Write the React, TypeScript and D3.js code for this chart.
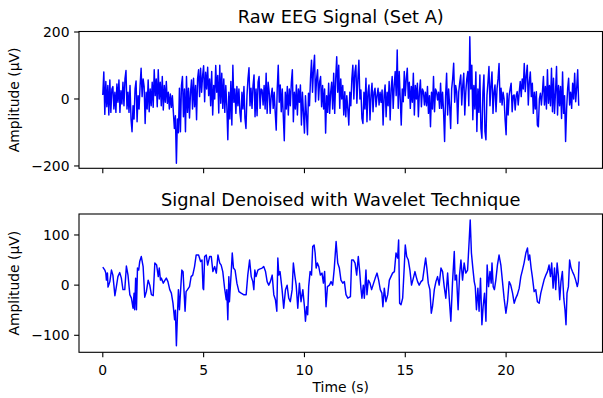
import React from 'react';
import * as d3 from 'd3';

// Raw EEG amplitude (µV), one reading every RAW_DT seconds
const RAW_DT = 0.05;
const rawAmp = [
  12, 81, -46, 52, -23, 40, -48, 57, -40, 30, 37, -30, 20, -40, 45, -10, 57, -40, 25, -15,
  50, -20, 60, 85, -30, 20, -40, 40, -60, -98, -20, -60, 30, 54, -68, 10, -30, 40, 92, 7,
  60, 37, -73, 20, -30, 57, -38, 30, -20, 50, -25, 87, 10, 60, -23, 87, 0, 50, -20, 67,
  -33, 40, -10, 52, -13, 20, -30, 15, -25, 10, -40, -88, -50, -192, -60, -101, 32, -98, 40, 67,
  -53, 30, -98, 67, -40, 32, -57, 20, 57, -30, 62, -23, 40, -62, 60, 87, 7, 92, 20, 70,
  99, -8, 80, 30, 95, 10, 60, -20, 82, -48, 40, 0, 100, 20, 70, -42, 101, -13, 77, -28,
  60, -40, 40, -20, -122, 20, -60, 52, -78, 101, -10, 30, -43, 37, -20, 30, -40, -68, 20, -30,
  37, -58, -88, 10, 60, 93, -20, 32, -28, 40, 72, -53, 30, -50, 50, 67, -28, 30, 27, -18,
  40, -30, 77, -43, 50, 22, -43, 10, 32, -28, 20, -40, -93, 30, 101, -10, 42, -38, 30, -50,
  -125, 20, -30, 37, -48, 30, -20, 50, 87, -68, 20, -30, 42, -48, 30, -10, 42, -78, 20, -40,
  -102, 10, -50, -107, 17, -20, 60, 116, 20, 90, 131, -8, 60, 87, -3, 50, 67, -23, 40, -30,
  30, -102, 10, -40, 47, -43, 20, 50, -30, 77, -43, 60, 126, 20, 101, -28, 60, 0, 40, -48,
  22, -53, 10, -30, -78, 20, -20, 60, 101, 0, 80, 101, -13, 60, 116, 0, 27, -58, -73, 20,
  -30, 62, -68, 20, 42, -63, 10, 47, -38, 20, 32, -23, 10, 32, -18, 20, -10, 27, -78, 10,
  42, -53, 20, -20, 52, -63, 30, 67, -28, 40, 82, 10, 146, -28, 82, 0, -78, 30, -8, 82,
  10, 60, 92, 2, 50, -28, 37, -10, 77, -48, 40, 0, 47, -53, 20, 57, -23, 30, 22, -18,
  20, -20, 37, -43, 10, -83, 20, -30, 67, -38, 30, 22, -3, 20, -28, 47, -28, 20, -40, -127,
  10, 77, -48, 30, -20, -88, 30, 60, 107, -10, 40, 22, -73, 20, 50, 72, -18, 40, 77, -48,
  20, 60, 82, -20, 186, 30, 101, -62, 40, -30, 81, -97, 30, -40, 72, -88, -117, 20, 72, -97,
  -122, 10, 50, 97, -20, 40, 81, -43, 20, 42, -38, 30, 60, 106, -10, 32, -18, 20, 0, -62,
  -107, 17, -48, 10, 30, 47, -38, 10, 12, -33, 10, 22, -18, 20, 52, 7, 60, 30, 106, 22,
  70, 101, -18, 50, 81, 7, 47, -43, 20, -30, 22, -78, -83, 0, 17, -18, 20, 67, -18, 37,
  -30, 87, -13, 40, -20, 92, -38, 62, -43, 20, 97, -48, 40, -20, 37, -58, 81, -43, 10, -127,
  -30, 30, 62, -18, 20, -28, 47, 0, 77, -8, 32, 87, -20,
];

// Denoised signal: [time (s), amplitude (µV)]
const denoised: [number, number][] = [
  [0, 36], [0.1, 30], [0.15, 24], [0.18, 10], [0.23, 24], [0.26, -4], [0.35, 7], [0.43, 30], [0.5, 20], [0.55, 0],
  [0.6, -21], [0.65, -9], [0.75, 17], [0.84, 25], [0.92, 14], [1.0, -9], [1.09, -9], [1.17, 38], [1.25, 20], [1.34, -19],
  [1.42, -26], [1.5, -46], [1.55, -16], [1.58, -49], [1.63, 14], [1.67, -49], [1.72, 34], [1.78, 30], [1.83, 47], [1.91, 57],
  [2.0, 37], [2.08, -24], [2.16, -13], [2.25, 10], [2.33, 0], [2.41, -19], [2.5, -21], [2.58, 44], [2.67, 40], [2.75, 17],
  [2.8, 34], [2.86, 10], [2.9, 14], [3.0, 4], [3.07, 9], [3.15, 14], [3.23, 7], [3.32, -9], [3.4, -16], [3.48, -36],
  [3.56, -69], [3.6, -50], [3.65, -121], [3.7, -62], [3.75, -9], [3.8, -49], [3.85, -16], [3.92, 30], [3.98, 27], [4.03, -13],
  [4.08, -52], [4.13, -13], [4.2, -9], [4.3, -3], [4.38, 17], [4.46, 20], [4.55, 37], [4.63, 60], [4.75, 60], [4.85, 47],
  [4.92, 50], [4.97, -6], [5.0, -9], [5.05, 57], [5.13, 60], [5.2, 40], [5.3, 57], [5.38, 57], [5.46, 27], [5.55, 37],
  [5.63, 24], [5.71, 60], [5.8, 44], [5.87, 40], [5.95, 27], [6.04, -6], [6.12, -29], [6.15, -9], [6.2, -69], [6.25, 17],
  [6.28, -33], [6.37, 27], [6.42, 64], [6.48, 34], [6.56, 30], [6.65, 4], [6.75, -13], [6.86, -16], [6.98, -19], [7.11, -19],
  [7.19, 20], [7.28, 50], [7.36, 17], [7.44, 7], [7.49, -9], [7.54, 30], [7.6, 17], [7.69, 30], [7.77, 32], [7.9, 34],
  [7.98, 37], [8.07, 27], [8.15, 7], [8.23, 0], [8.31, 7], [8.4, 20], [8.48, -19], [8.56, -29], [8.63, -52], [8.68, 54],
  [8.73, 20], [8.79, 27], [8.89, -9], [8.97, -46], [9.06, -9], [9.14, 0], [9.22, -26], [9.3, -33], [9.39, -9], [9.45, 44],
  [9.52, 20], [9.59, 0], [9.67, -46], [9.75, 4], [9.83, -33], [9.92, -9], [10.0, -43], [10.05, -72], [10.11, -43], [10.16, -59],
  [10.21, -3], [10.28, 27], [10.35, 20], [10.41, 77], [10.48, 80], [10.53, 64], [10.58, 34], [10.64, 44], [10.71, 37], [10.79, 20],
  [10.87, 24], [10.94, 4], [11.0, 27], [11.07, -43], [11.14, -3], [11.24, 0], [11.32, 7], [11.4, 0], [11.48, 34], [11.57, 87],
  [11.65, 44], [11.73, 34], [11.81, 10], [11.9, 4], [11.98, 7], [12.06, -19], [12.15, -26], [12.28, -23], [12.34, 50], [12.43, 50],
  [12.51, 44], [12.59, 20], [12.67, 57], [12.74, 27], [12.8, -6], [12.85, -26], [12.92, 0], [12.97, -26], [13.05, 30], [13.1, -19],
  [13.17, 10], [13.25, 4], [13.33, -9], [13.43, 4], [13.51, 14], [13.6, 24], [13.68, 10], [13.76, -9], [13.84, -16], [13.89, -43],
  [13.96, -6], [14.04, -33], [14.13, -19], [14.21, 10], [14.29, 17], [14.37, 24], [14.46, 27], [14.54, 64], [14.62, 54], [14.67, 90],
  [14.72, -36], [14.79, -39], [14.87, -26], [14.95, 37], [15.0, 80], [15.07, 57], [15.15, 50], [15.23, 30], [15.31, 0], [15.4, 14],
  [15.48, 27], [15.54, 17], [15.61, 7], [15.69, 0], [15.78, 7], [15.86, 10], [15.94, 34], [16.01, 54], [16.07, 34], [16.14, 4],
  [16.22, -9], [16.29, -56], [16.35, -43], [16.44, -9], [16.52, 7], [16.6, 17], [16.68, 0], [16.77, 34], [16.85, 27], [16.93, -3],
  [17.01, -26], [17.1, 24], [17.18, -26], [17.26, -72], [17.34, 4], [17.43, 67], [17.47, 10], [17.54, 20], [17.62, -49], [17.69, 20],
  [17.76, 50], [17.84, 10], [17.92, 44], [18.0, 24], [18.09, 30], [18.17, 90], [18.22, 130], [18.28, 64], [18.35, 34], [18.42, 7],
  [18.47, -3], [18.53, -49], [18.6, -6], [18.66, -52], [18.73, 14], [18.8, -79], [18.86, -43], [18.93, -16], [19.0, -72], [19.06, 40],
  [19.13, -3], [19.2, 27], [19.26, 4], [19.3, 44], [19.36, -3], [19.42, -9], [19.49, 10], [19.57, 40], [19.65, 60], [19.74, 40],
  [19.82, 7], [19.9, -26], [19.99, -56], [20.07, -33], [20.15, 7], [20.23, 0], [20.32, -16], [20.4, -36], [20.48, -26], [20.56, -19],
  [20.65, -6], [20.73, 17], [20.81, 30], [20.89, 44], [20.98, 64], [21.06, 74], [21.11, 50], [21.17, 60], [21.24, 34], [21.3, 17],
  [21.39, -13], [21.47, -9], [21.55, -33], [21.64, -36], [21.72, -16], [21.8, -3], [21.88, 10], [21.97, 20], [22.05, 27], [22.13, 40],
  [22.2, 17], [22.26, 44], [22.33, -6], [22.4, 34], [22.46, -9], [22.53, 44], [22.59, 20], [22.66, -29], [22.72, 7], [22.79, 27],
  [22.86, -26], [22.92, -49], [22.97, -79], [23.02, -16], [23.09, -3], [23.15, 50], [23.22, 34], [23.29, 27], [23.37, 20], [23.45, 10],
  [23.53, -3], [23.58, 7], [23.62, 47],
];

const xTicks = [0, 5, 10, 15, 20];
const rawYTicks = [-200, 0, 200];
const denoisedYTicks = [-100, 0, 100];

const W = 603;
const H = 398;
const FONT = 'DejaVu Sans, sans-serif';
const LEFT = 79;
const RIGHT = 602.5;

const x = d3.scaleLinear().domain([-1.18, 24.78]).range([LEFT, RIGHT]);

const fmt = (v: number) => (v < 0 ? '\u2212' + Math.abs(v) : String(v));

type PanelProps = {
  top: number;
  bottom: number;
  yDomain: [number, number];
  yTicks: number[];
  title: string;
  points: [number, number][];
  xLabels: boolean;
};

const Panel = ({ top, bottom, yDomain, yTicks, title, points, xLabels }: PanelProps) => {
  const y = d3.scaleLinear().domain(yDomain).range([bottom, top]);
  const line = d3.line<[number, number]>()
    .x(d => x(d[0]))
    .y(d => y(d[1]));
  const cx = (LEFT + RIGHT) / 2;
  return (
    <g>
      <path d={line(points) || ''} fill="none" stroke="#0000ff" strokeWidth={1.45} strokeLinejoin="round" />
      <rect x={LEFT} y={top} width={RIGHT - LEFT} height={bottom - top} fill="none" stroke="#000" strokeWidth={1.1} />
      {yTicks.map(t => (
        <g key={t}>
          <line x1={LEFT - 4.9} x2={LEFT} y1={y(t)} y2={y(t)} stroke="#000" strokeWidth={1.1} />
          <text x={LEFT - 9.5} y={y(t) + 5} textAnchor="end" fontSize={13.9} fontFamily={FONT}>{fmt(t)}</text>
        </g>
      ))}
      {xTicks.map(t => (
        <g key={t}>
          <line x1={x(t)} x2={x(t)} y1={bottom} y2={bottom + 4.9} stroke="#000" strokeWidth={1.1} />
          {xLabels && (
            <text x={x(t)} y={bottom + 22.5} textAnchor="middle" fontSize={13.9} fontFamily={FONT}>{fmt(t)}</text>
          )}
        </g>
      ))}
      <text x={cx} y={top - 8.5} textAnchor="middle" fontSize={17.8} fontFamily={FONT}>{title}</text>
      <text
        transform={`translate(19,${(top + bottom) / 2}) rotate(-90)`}
        textAnchor="middle"
        fontSize={13.9}
        fontFamily={FONT}
      >Amplitude (μV)</text>
    </g>
  );
};

export default function App() {
  const rawPoints: [number, number][] = rawAmp.map((v, i) => [i * RAW_DT, v]);
  return (
    <svg width={W} height={H} style={{ position: 'absolute', left: 0, top: 0, background: '#fff' }}>
      <rect width={W} height={H} fill="#fff" />
      <Panel
        top={31.5}
        bottom={168.3}
        yDomain={[-207, 201.5]}
        yTicks={rawYTicks}
        title="Raw EEG Signal (Set A)"
        points={rawPoints}
        xLabels={false}
      />
      <Panel
        top={214}
        bottom={352.3}
        yDomain={[-133.9, 141.8]}
        yTicks={denoisedYTicks}
        title="Signal Denoised with Wavelet Technique"
        points={denoised}
        xLabels={true}
      />
      <text x={(LEFT + RIGHT) / 2} y={392} textAnchor="middle" fontSize={13.9} fontFamily={FONT}>Time (s)</text>
    </svg>
  );
}
